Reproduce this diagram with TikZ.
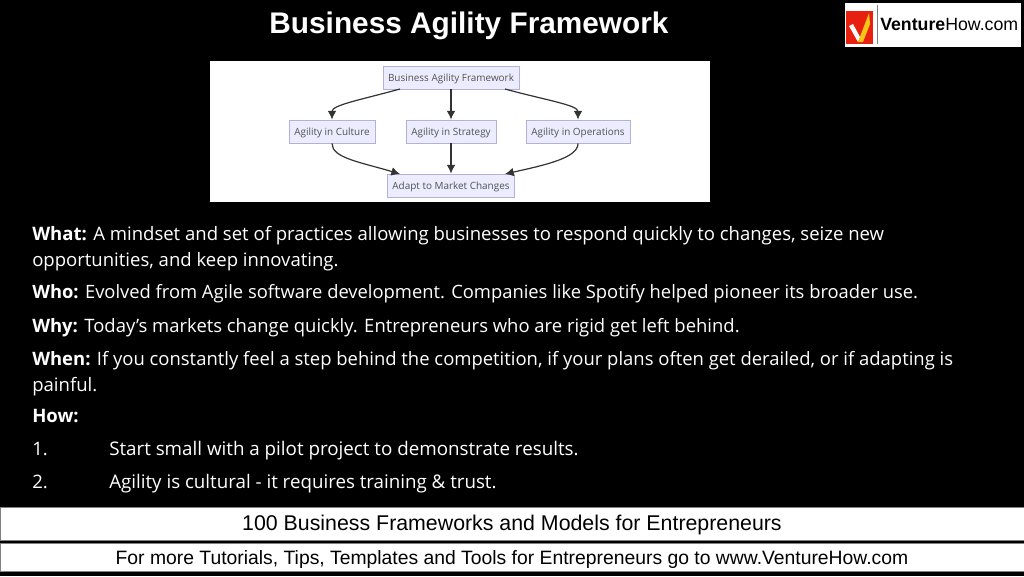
\documentclass[tikz,border=0pt]{standalone}
\usepackage{xcolor}
\usepackage{fontspec}
\setmainfont{Open Sans}
\newfontfamily\arialfont{Liberation Sans}
\usetikzlibrary{positioning,arrows.meta}
\definecolor{nodefill}{HTML}{ECECFF}
\definecolor{nodeline}{HTML}{B4B0D8}
\definecolor{edgeline}{HTML}{333333}
\definecolor{logored}{HTML}{E8200F}
\definecolor{logoyellow}{HTML}{F5C518}

\begin{document}
\begin{tikzpicture}[
    x=0.75pt, y=-0.75pt,
    flow/.style={rectangle, draw=nodeline, fill=nodefill, line width=0.7pt, inner sep=0pt, minimum height=17.25pt, text height=7.2pt, text depth=1pt, text=edgeline!85!white, font=\fontsize{7.45}{10}\selectfont},
    arrow/.style={-{Latex[length=6.5pt,width=6.5pt]}, edgeline, line width=0.9pt},
    body/.style={anchor=base west, text=white, inner sep=0pt, font=\fontsize{13.9}{16}\selectfont},
    band/.style={rectangle, draw=gray, fill=white, inner sep=0pt, minimum width=768pt, text height=12pt, text depth=1pt, text=black, font=\arialfont\fontsize{16}{18}\selectfont}
]
\useasboundingbox (0,0) rectangle (1024,576);
\fill[black] (0,0) rectangle (1024,576);

% title and logo
\node[text=white, inner sep=0pt, font=\arialfont\bfseries\fontsize{22.35}{25}\selectfont] (title) at (469,26) {Business Agility Framework};
\node[rectangle, fill=white, minimum width=132pt, minimum height=33pt, inner sep=0pt] (logo) at (933,25) {};
\fill[logored] (846,11) rectangle (873,44);
\fill[white] (849,26) -- (853,24) -- (860,37) -- (858,42) -- cycle;
\fill[logoyellow] (858,42) -- (869,13) -- (870,24) -- (863,42) -- cycle;
\draw[gray, line width=0.6pt] (877,5) -- (877,44);
\node[anchor=base west, inner sep=0pt, text=black, font=\arialfont\fontsize{13.3}{16}\selectfont] (brand) at (880,30) {\textbf{Venture}How.com};

% flowchart
\fill[white] (210,61) rectangle (710,202);
\node[flow, minimum width=102pt] (framework) at (451,77.5) {Business Agility Framework};
\node[flow, minimum width=64.5pt] (culture) at (332,131.5) {Agility in Culture};
\node[flow, minimum width=67.5pt] (strategy) at (451,131.5) {Agility in Strategy};
\node[flow, minimum width=78pt] (operations) at (578,131.5) {Agility in Operations};
\node[flow, minimum width=95.25pt] (market) at (451,185.5) {Adapt to Market Changes};

\draw[arrow] (400,89) .. controls (360,100) and (332,105) .. (culture.north);
\draw[arrow] (framework) -- (strategy);
\draw[arrow] (505,89) .. controls (545,100) and (578,105) .. (operations.north);
\draw[arrow] (culture.south) .. controls (332,158) and (360,162) .. (400,174);
\draw[arrow] (strategy) -- (market);
\draw[arrow] (operations.south) .. controls (578,158) and (545,165) .. (505,174);

% body text
\node[body] (what) at (32,240) {\textbf{What:} A mindset and set of practices allowing businesses to respond quickly to changes, seize new};
\node[body] (what2) at (32,266) {opportunities, and keep innovating.};
\node[body, font=\fontsize{13.77}{16}\selectfont] (who) at (32,298) {\textbf{Who:} Evolved from Agile software development. Companies like Spotify helped pioneer its broader use.};
\node[body, font=\fontsize{13.84}{16}\selectfont] (why) at (32,332) {\textbf{Why:} Today's markets change quickly. Entrepreneurs who are rigid get left behind.};
\node[body, font=\fontsize{13.84}{16}\selectfont] (when) at (32,365) {\textbf{When:} If you constantly feel a step behind the competition, if your plans often get derailed, or if adapting is};
\node[body] (when2) at (32,391) {painful.};
\node[body] (how) at (32,422) {\textbf{How:}};
\node[body] (num1) at (32,455) {1.};
\node[body, font=\fontsize{14.08}{16}\selectfont] (item1) at (109,455) {Start small with a pilot project to demonstrate results.};
\node[body] (num2) at (32,488) {2.};
\node[body, font=\fontsize{14.05}{16}\selectfont] (item2) at (109,488) {Agility is cultural - it requires training \& trust.};

% footer bands
\node[band, minimum height=24.75pt] (series) at (512,523.5) {100 Business Frameworks and Models for Entrepreneurs};
\node[band, minimum height=21pt, font=\arialfont\fontsize{14.5}{18}\selectfont] (promo) at (512,557) {For more Tutorials, Tips, Templates and Tools for Entrepreneurs go to www.VentureHow.com};
\end{tikzpicture}
\end{document}
